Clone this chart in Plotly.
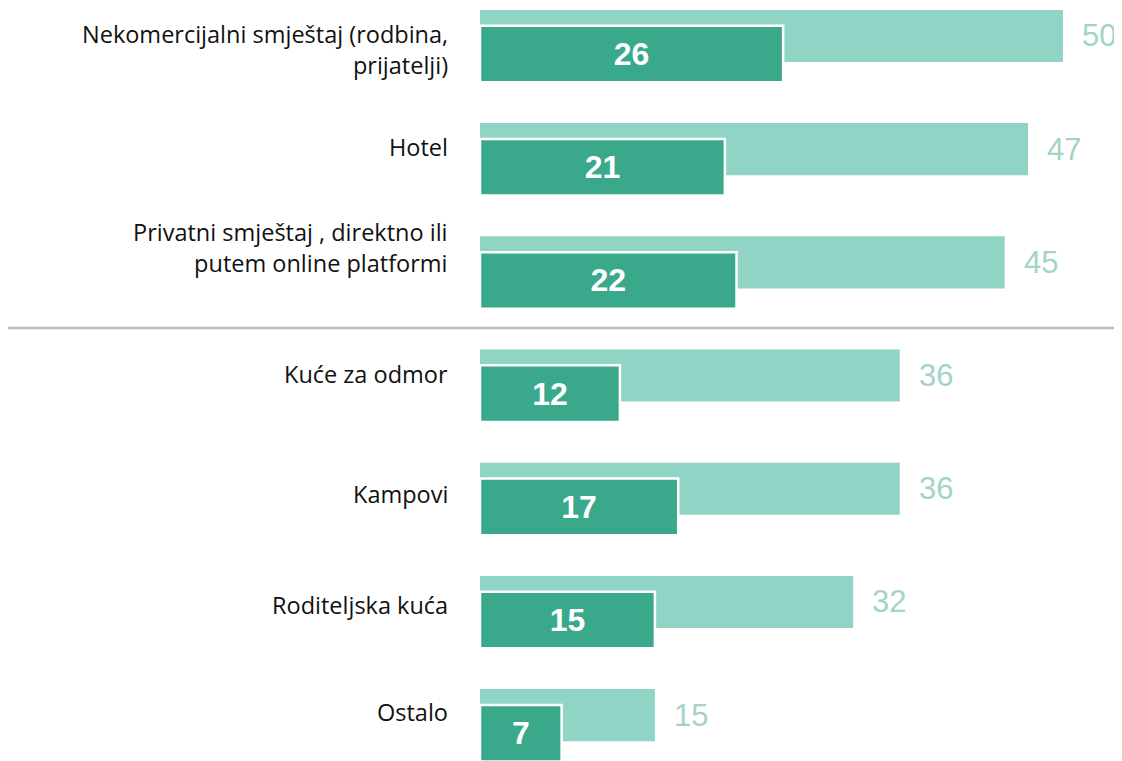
import plotly.graph_objects as go

categories = [
    "Nekomercijalni smještaj (rodbina,<br>prijatelji)",
    "Hotel",
    "Privatni smještaj , direktno ili<br>putem online platformi",
    "Kuće za odmor",
    "Kampovi",
    "Roditeljska kuća",
    "Ostalo",
]
total_values = [50, 47, 45, 36, 36, 32, 15]
main_values = [26, 21, 22, 12, 17, 15, 7]

LIGHT = "#8fd4c4"
DARK = "#3aa98b"
LIGHT_TEXT = "#a3d3c8"

# small downward nudges (px) of the category labels, as in the reference layout
label_nudge_down = [14, -2, -15, -2, 5, 3, -3]

pos = list(range(len(categories)))

fig = go.Figure()
fig.add_trace(go.Bar(
    y=pos, x=total_values, orientation="h",
    marker=dict(color=LIGHT, line=dict(width=0)),
    width=0.46, offset=-0.23, hoverinfo="skip",
))
fig.add_trace(go.Bar(
    y=pos, x=main_values, orientation="h",
    marker=dict(color=DARK, line=dict(color="white", width=2.5)),
    width=0.5, offset=-0.09,
    text=[str(v) for v in main_values], textposition="inside",
    insidetextanchor="middle",
    textfont=dict(color="white", size=32, family="Liberation Sans"),
    texttemplate="<b>%{text}</b>", hoverinfo="skip",
))

# value labels for the light bars
for p, v in zip(pos, total_values):
    fig.add_annotation(x=v, y=p, text=str(v), showarrow=False,
                       xanchor="left", xshift=17, yshift=0,
                       font=dict(size=31, color=LIGHT_TEXT, family="Liberation Sans"))

# category labels
for p, c, n in zip(pos, categories, label_nudge_down):
    fig.add_annotation(x=0, y=p, text=c, showarrow=False,
                       xanchor="right", xshift=-30, yshift=-n, align="right",
                       font=dict(size=23.5, color="#111111", family="Open Sans"))

fig.add_shape(type="line", xref="paper", yref="y", x0=-0.75, x1=1.0,
              y0=2.58, y1=2.58, line=dict(color="#bdbdbd", width=2.5))

fig.update_layout(
    width=1114, height=753,
    margin=dict(l=472, r=0, t=0, b=0, autoexpand=False),
    paper_bgcolor="white", plot_bgcolor="white",
    barmode="overlay", showlegend=False,
    xaxis=dict(range=[0, 55.06], visible=False),
    yaxis=dict(range=[6.405, -0.247], visible=False),
)

fig.write_html("out.html")
